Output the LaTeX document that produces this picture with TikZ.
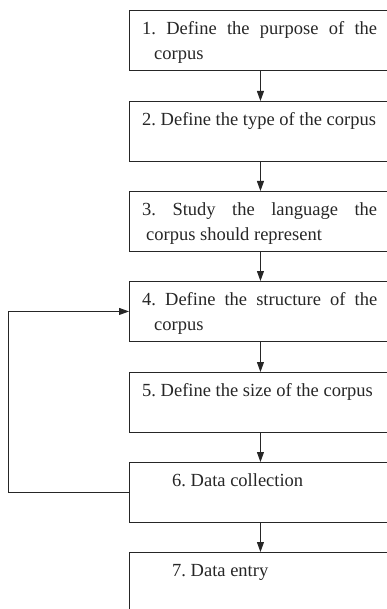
\documentclass[tikz,border=0pt]{standalone}
\usepackage{fontspec}
\setmainfont{Liberation Serif}
\usepackage{tikz}
\usetikzlibrary{arrows.meta}
\setlength{\parindent}{0pt}
\hyphenpenalty=10000
\tolerance=9999
\frenchspacing
\definecolor{ink}{HTML}{262626}
\tikzset{
  stagebox/.style={draw=ink, line width=0.9pt, anchor=north west, minimum width=262pt, minimum height=60pt, inner sep=0pt},
  stagetext/.style={anchor=north west, inner sep=0pt, text width=235pt, align=justify, text=ink,
    font=\fontsize{18.5}{25}\selectfont},
  flow/.style={draw=ink, line width=0.9pt, -{Triangle[length=10pt,width=7pt]}}
}
\newcommand{\stage}[4]{\node[stagebox] (#1) at (129,#2) {}; \node[stagetext] (#1t) at ([xshift=#3pt,yshift=-6.5pt]#1.north west) {#4};}
\newcommand{\stagehang}[1]{\hangindent=#1\hangafter=1\relax}
\begin{document}
\begin{tikzpicture}[x=1pt, y=-1pt]
    \useasboundingbox (0,0) rectangle (387,609);
    \clip (0,0) rectangle (387,609);
    % stages
    \stage{s1}{10}{13}{\stagehang{12pt}\strut 1. Define the purpose of the corpus\par}
    \stage{s2}{101}{13}{\strut 2. Define the type of the corpus}
    \stage{s3}{191}{13}{\stagehang{4pt}\strut 3. Study the language the\linebreak corpus should represent\par}
    \stage{s4}{281}{13}{\stagehang{12pt}\strut 4. Define the structure of the corpus\par}
    \stage{s5}{372}{13}{\strut 5. Define the size of the corpus}
    \stage{s6}{462}{43}{\strut 6. Data collection}
    \stage{s7}{552}{43}{\strut 7. Data entry}
    % arrows
    \draw[flow] (s1.south) -- (s2.north);
    \draw[flow] (s2.south) -- (s3.north);
    \draw[flow] (s3.south) -- (s4.north);
    \draw[flow] (s4.south) -- (s5.north);
    \draw[flow] (s5.south) -- (s6.north);
    \draw[flow] (s6.south) -- (s7.north);
    % back to stage 4
    \draw[flow] (s6.west) -- ++(-121,0) |- (s4.west);
\end{tikzpicture}
\end{document}
